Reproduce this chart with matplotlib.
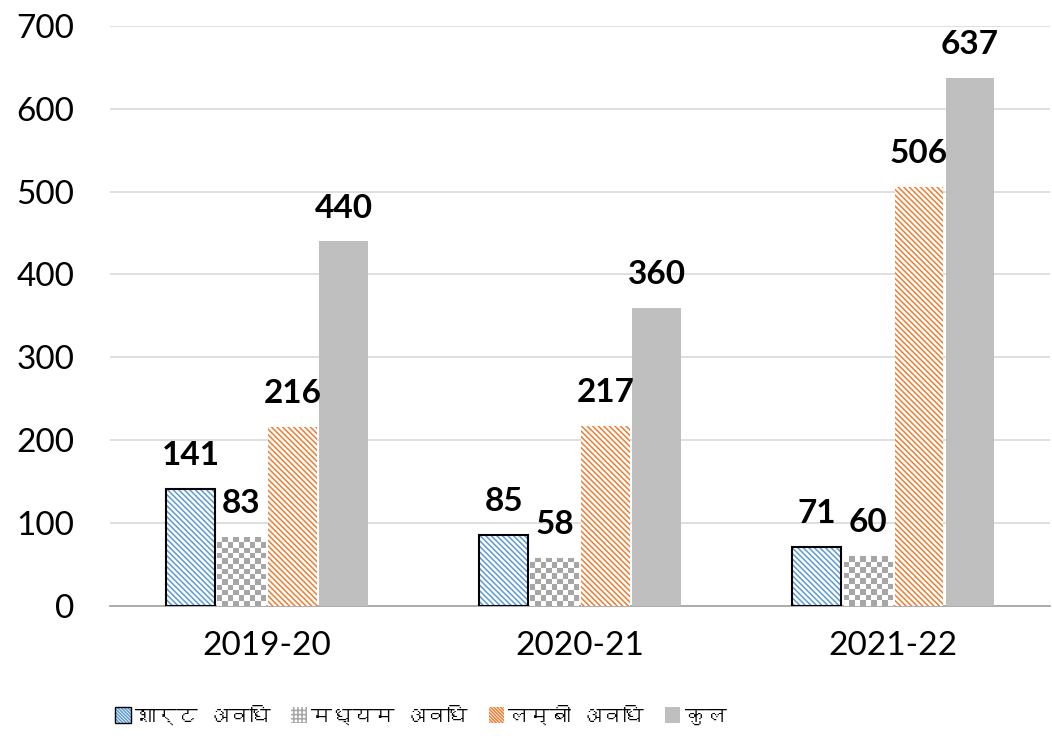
import numpy as np
import matplotlib
matplotlib.use("Agg")
import matplotlib.pyplot as plt
from matplotlib import font_manager
from matplotlib.patches import Patch
from matplotlib.legend_handler import HandlerTuple

years = ["2019-20", "2020-21", "2021-22"]
series = ["शार्ट अवधि", "मध्यम अवधि", "लम्बी अवधि", "कुल"]
short_term = [141, 85, 71]
medium_term = [83, 58, 60]
long_term = [216, 217, 506]
total = [440, 360, 637]

# find a font that has devanagari glyphs
deva = None
try:
    from fontTools.ttLib import TTFont
    for f in font_manager.fontManager.ttflist:
        try:
            cmap = TTFont(f.fname, fontNumber=0, lazy=True).getBestCmap()
        except Exception:
            continue
        if cmap and 0x0915 in cmap:
            deva = f.name
            break
except Exception:
    pass

num_font = ["Lato", "DejaVu Sans"]
leg_font = ([deva] if deva else []) + ["DejaVu Sans"]

plt.rcParams["hatch.linewidth"] = 1.1

fig = plt.figure(figsize=(10.52, 7.45), dpi=100)
ax = fig.add_axes([0.105, 0.187, 0.893, 0.778])

x = np.arange(len(years))
w = 0.155
step = 0.163
dense = "\\" * 6

# short term: white with blue diagonal lines and a black outline
b1 = ax.bar(x - 1.5 * step, short_term, w, facecolor="white", edgecolor="#5b9bd5",
            linewidth=0, hatch=dense, zorder=3)
ax.bar(x - 1.5 * step, short_term, w, facecolor="none", edgecolor="black",
       linewidth=1.5, zorder=4)

b2 = ax.bar(x - 0.5 * step, medium_term, w, facecolor="white", linewidth=0, zorder=3)
b3 = ax.bar(x + 0.5 * step, long_term, w, facecolor="white", edgecolor="#ed7d31",
            linewidth=0, hatch=dense, zorder=3)
b4 = ax.bar(x + 1.5 * step, total, w, color="#bfbfbf", linewidth=0, zorder=3)

ax.set_xlim(-0.5, 2.5)
ax.set_ylim(0, 700)

# checker texture for medium term bars
fig.canvas.draw()
checker = matplotlib.colors.ListedColormap(["white", "#a6a6a6"])
for p in b2:
    x0, h, bw = p.get_x(), p.get_height(), p.get_width()
    bb = p.get_window_extent()
    nx = 9
    ny = max(1, int(round(bb.height / (bb.width / nx))))
    grid = (np.indices((ny, nx)).sum(axis=0) % 2).astype(float)
    img = ax.imshow(grid, cmap=checker, extent=(x0, x0 + bw, 0, h), aspect="auto",
                    interpolation="nearest", zorder=3.5)
    img.set_clip_path(p)
ax.set_xlim(-0.5, 2.5)
ax.set_ylim(0, 700)

for bars, vals in [(b1, short_term), (b2, medium_term), (b3, long_term), (b4, total)]:
    for p, v in zip(bars, vals):
        ax.annotate(str(v), (p.get_x() + p.get_width() / 2, v), xytext=(0, 24),
                    textcoords="offset points", ha="center", va="center",
                    fontsize=24, fontweight="bold", family=num_font, zorder=5)

ax.set_yticks(range(0, 701, 100))
ax.yaxis.grid(True, color="#d9d9d9", linewidth=1.2, zorder=0)
ax.set_axisbelow(True)
for s in ["left", "right", "top"]:
    ax.spines[s].set_visible(False)
ax.spines["bottom"].set_color("#a6a6a6")
ax.spines["bottom"].set_linewidth(1.3)
ax.tick_params(axis="both", length=0, labelsize=24, colors="black")
ax.tick_params(axis="y", pad=26)
ax.tick_params(axis="x", pad=18)
ax.set_xticks(x)
ax.set_xticklabels(years)
for lab in ax.get_xticklabels() + ax.get_yticklabels():
    lab.set_family(num_font)

handles = [
    (Patch(facecolor="white", edgecolor="#5b9bd5", hatch="\\" * 10, linewidth=0),
     Patch(facecolor="none", edgecolor="black", linewidth=1)),
    Patch(facecolor="white", edgecolor="#a6a6a6", hatch="++++", linewidth=0),
    Patch(facecolor="white", edgecolor="#ed7d31", hatch="\\" * 10, linewidth=0),
    Patch(facecolor="#bfbfbf", linewidth=0),
]
fig.legend(handles, series, loc="center", bbox_to_anchor=(0.40, 0.04), ncol=4,
           frameon=False, handlelength=0.75, handleheight=0.75, handletextpad=0.2,
           columnspacing=1.0, prop={"family": leg_font, "size": 15},
           handler_map={tuple: HandlerTuple(ndivide=1, pad=0)})

fig.savefig("out.png", dpi=100)
